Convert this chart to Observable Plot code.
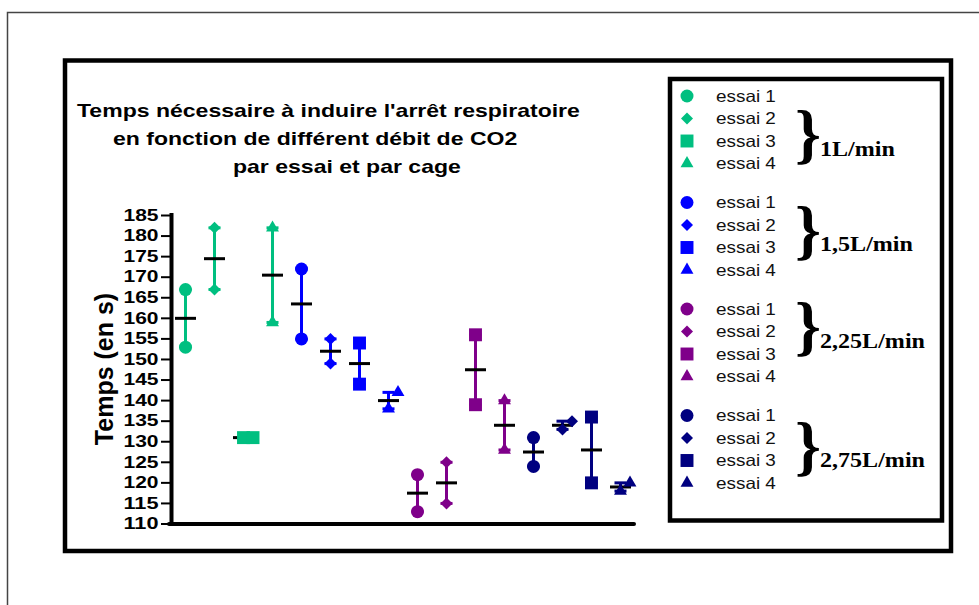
<!DOCTYPE html>
<html><head><meta charset="utf-8">
<script src="https://cdn.jsdelivr.net/npm/d3@7"></script>
<script src="https://cdn.jsdelivr.net/npm/@observablehq/plot@0.6"></script>
<style>
html,body{margin:0;padding:0;background:#fff;}
#wrap{position:relative;width:979px;height:605px;overflow:hidden;background:#fff;}
#wrap svg{position:absolute;left:0;top:0;}
</style></head><body><div id="wrap"></div>
<script>
// ---------- data ----------
const debits = ["1L/min", "1,5L/min", "2,25L/min", "2,75L/min"];
const essais = ["essai 1", "essai 2", "essai 3", "essai 4"];
const cage1 = [167, 182, 131, 182, 172, 155, 154, 138, 122, 125, 156, 140, 131, 133, 136, 118];
const cage2 = [153, 167, 131, 159, 155, 149, 144, 142, 113, 115, 139, 128, 124, 135, 120, 120];
const yTicks = [110, 115, 120, 125, 130, 135, 140, 145, 150, 155, 160, 165, 170, 175, 180, 185];
const titleLines = ["Temps nécessaire à induire l'arrêt respiratoire", "en fonction de différent débit de CO2", "par essai et par cage"];
const yLabel = "Temps (en s)";

// ---------- styles ----------
const palette = ["#00BF80", "#0000FF", "#7F008A", "#000080"];
const shapes = ["circle", "diamond2", "square", "triangle"];
const d3shapes = [d3.symbolCircle, d3.symbolDiamond2, d3.symbolSquare, d3.symbolTriangle];
const symR = [6.5, 5.4, 7.3, 4.8];

// ---------- derived tables ----------
const groups = cage1.map((v, i) => {
  const w = cage2[i];
  return {idx: i + 1, debit: debits[Math.floor(i / 4)], essai: essais[i % 4],
          lo: Math.min(v, w), hi: Math.max(v, w), mean: (v + w) / 2};
});
const points = cage1.flatMap((v, i) => {
  const w = cage2[i];
  const base = {idx: i + 1, debit: debits[Math.floor(i / 4)], essai: essais[i % 4]};
  return [{...base, v, jit: false}, {...base, v: w, jit: Math.abs(v - w) <= 4}];
});

const hline = {draw(ctx, size) { const r = Math.sqrt(size / Math.PI); ctx.moveTo(-r, 0); ctx.lineTo(r, 0); }};
const xDomain = [0.517, 16.483];

const dotMarks = [];
essais.forEach((e, k) => {
  dotMarks.push(Plot.dot(points.filter(p => p.essai === e && !p.jit), {x: "idx", y: "v", symbol: shapes[k], r: symR[k], fill: "debit", stroke: "none"}));
  dotMarks.push(Plot.dot(points.filter(p => p.essai === e && p.jit), {x: "idx", y: "v", symbol: shapes[k], r: symR[k], fill: "debit", stroke: "none", dx: 9.5}));
});

const chart = Plot.plot({
  width: 979, height: 605,
  marginLeft: 171, marginRight: 345, marginTop: 215, marginBottom: 81.5,
  style: {fontFamily: "'Liberation Sans', Arial, sans-serif", fontWeight: "bold", background: "transparent", color: "black", overflow: "visible"},
  x: {domain: xDomain, axis: null},
  y: {domain: [110, 185], axis: null},
  color: {domain: debits, range: palette},
  marks: [
    Plot.axisY({ticks: yTicks, tickSize: 10, tickPadding: 3, label: null, fontSize: 16.3, fontWeight: "bold", strokeWidth: 2, stroke: "black", fill: "black", tickFormat: d => String(d)}),
    Plot.ruleX([xDomain[0]], {stroke: "black", strokeWidth: 4, insetTop: -2, insetBottom: -2}),
    Plot.ruleY([110], {stroke: "black", strokeWidth: 4, insetLeft: -2, strokeLinecap: "round"}),
    Plot.ruleX(groups, {x: "idx", y1: "lo", y2: "hi", stroke: "debit", strokeWidth: 3}),
    Plot.dot(groups, {x: "idx", y: "lo", symbol: hline, r: 6, stroke: "debit", fill: "none", strokeWidth: 3}),
    Plot.dot(groups, {x: "idx", y: "hi", symbol: hline, r: 6, stroke: "debit", fill: "none", strokeWidth: 3}),
    Plot.dot(groups, {x: "idx", y: "mean", symbol: hline, r: 10.5, stroke: "black", fill: "none", strokeWidth: 3}),
    ...dotMarks
  ]
});
const wrap = document.getElementById("wrap");
wrap.appendChild(chart);
d3.select(chart).selectAll('[aria-label="y-axis tick label"] text').attr("textLength", 35).attr("lengthAdjust", "spacingAndGlyphs");

// ---------- overlay: frames, title, legend ----------
const ov = d3.select(wrap).append("svg").attr("width", 979).attr("height", 605);
ov.append("path").attr("d", "M7.5,605V12.5H979").attr("fill", "none").attr("stroke", "#444").attr("stroke-width", 1.5);
ov.append("rect").attr("x", 65).attr("y", 60.5).attr("width", 886).attr("height", 490.5).attr("fill", "none").attr("stroke", "black").attr("stroke-width", 4.5);
ov.append("rect").attr("x", 670).attr("y", 79).attr("width", 272).attr("height", 441.5).attr("fill", "none").attr("stroke", "black").attr("stroke-width", 4.5);

function addText(str, x, y, o) {
  const g = ov.append("g").attr("transform", `translate(${x},${y}) ${o.rotate ? `rotate(${o.rotate})` : ""} scale(${o.sx || 1},1)`);
  g.append("text").text(str)
    .attr("font-family", o.family || "'Liberation Sans', Arial, sans-serif")
    .attr("font-weight", o.weight || "normal")
    .attr("font-size", o.size)
    .attr("text-anchor", o.anchor || "start")
    .attr("fill", o.fill || "black");
}
const titleX = [77, 113, 233], titleY = [117, 145, 173];
titleLines.forEach((t, i) => addText(t, titleX[i], titleY[i], {size: 18.7, weight: "bold", sx: 1.232}));
addText(yLabel, 113, 369, {size: 25, weight: "bold", rotate: -90, anchor: "middle"});

const braceY = [138.5, 235, 331, 451];
const labelY = [156, 251, 348, 467];
debits.forEach((d, g) => {
  essais.forEach((e, r) => {
    const cy = 96 + g * 106.5 + r * 22.5;
    ov.append("path").attr("transform", `translate(687,${cy})`)
      .attr("d", d3.symbol(d3shapes[r], Math.PI * symR[r] * symR[r])())
      .attr("fill", palette[g]);
    addText(e, 716, cy + 5.8, {size: 16.3, sx: 1.16, fill: "#111"});
  });
  addText("}", 795, braceY[g] + 17, {size: 66, weight: "bold", family: "'Liberation Serif', 'Times New Roman', serif"});
  addText(d, 820, labelY[g], {size: 21.5, weight: "bold", sx: 1.12, family: "'Liberation Serif', 'Times New Roman', serif"});
});
</script></body></html>
